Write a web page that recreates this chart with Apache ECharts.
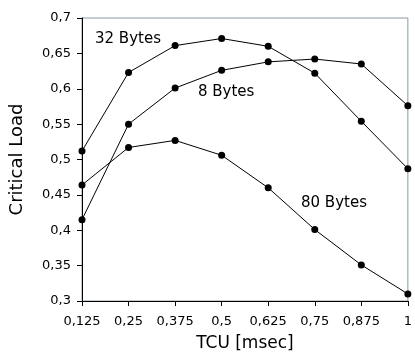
<!DOCTYPE html>
<html><head><meta charset="utf-8">
<script src="https://cdn.jsdelivr.net/npm/echarts@6/dist/echarts.min.js"></script>
<style>html,body{margin:0;padding:0;background:#fff}#c{width:415px;height:362px}</style>
</head><body><div id="c"></div>
<script>
var categories = ['0,125','0,25','0,375','0,5','0,625','0,75','0,875','1'];
var bytes32 = [0.512,0.623,0.661,0.671,0.660,0.622,0.554,0.487];
var bytes8 = [0.415,0.550,0.601,0.626,0.638,0.642,0.635,0.576];
var bytes80 = [0.464,0.517,0.527,0.506,0.460,0.401,0.351,0.310];
var seriesNames = ['32 Bytes','8 Bytes','80 Bytes'];

var font = '"DejaVu Sans", Verdana, sans-serif';
function mk(name, data){
  return {name:name,type:'line',data:data,symbol:'circle',symbolSize:7,
    itemStyle:{color:'#000'},lineStyle:{color:'#000',width:1},animation:false};
}
var chart = echarts.init(document.getElementById('c'));
chart.setOption({
  animation:false,
  grid:{left:82,right:4,top:18,bottom:61,show:true,borderColor:'#8a9aa4',borderWidth:1},
  xAxis:{type:'category',data:categories,boundaryGap:false,
    name:'TCU [msec]',nameLocation:'middle',nameGap:34,
    nameTextStyle:{fontFamily:font,fontSize:17,color:'#000'},
    axisLine:{lineStyle:{color:'#000',width:1}},
    axisTick:{show:true,interval:0,alignWithLabel:true,length:5,lineStyle:{color:'#000'}},
    axisLabel:{interval:0,hideOverlap:false,fontFamily:font,fontSize:13,color:'#000',margin:14},
    splitLine:{show:false}},
  yAxis:{type:'value',min:0.3,max:0.7,interval:0.05,
    name:'Critical Load',nameLocation:'middle',nameGap:56,
    nameTextStyle:{fontFamily:font,fontSize:18,color:'#000'},
    axisLine:{show:true,lineStyle:{color:'#000',width:1}},
    axisTick:{show:true,length:5,lineStyle:{color:'#000'}},
    axisLabel:{fontFamily:font,fontSize:13,color:'#000',margin:11,
      formatter:function(v){return String(Math.round(v*100)/100).replace('.',',');}},
    splitLine:{show:false}},
  series:[mk(seriesNames[0],bytes32),mk(seriesNames[1],bytes8),mk(seriesNames[2],bytes80)],
  graphic:[
    {type:'text',left:95,top:32,style:{text:seriesNames[0],font:'15px '+font,fill:'#000'}},
    {type:'text',left:198,top:85,style:{text:seriesNames[1],font:'15px '+font,fill:'#000'}},
    {type:'text',left:301,top:196,style:{text:seriesNames[2],font:'15px '+font,fill:'#000'}}
  ]
});
</script></body></html>
